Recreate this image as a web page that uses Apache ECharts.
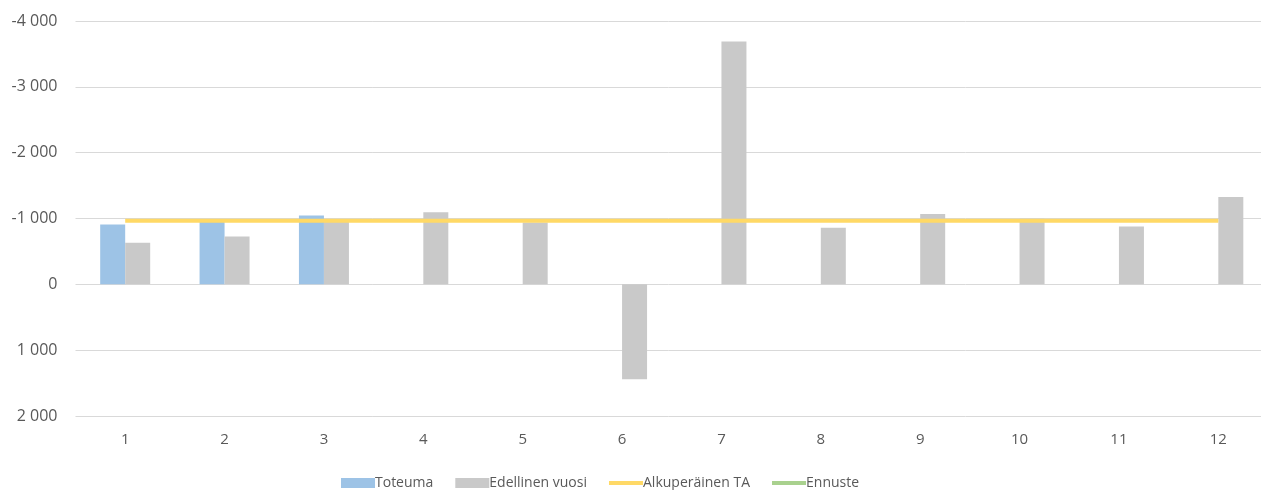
<!DOCTYPE html>
<html><head><meta charset="utf-8">
<script src="https://cdn.jsdelivr.net/npm/echarts@6/dist/echarts.min.js"></script>
<style>html,body{margin:0;padding:0;background:#fff}#c{width:1261px;height:490px}</style>
</head><body><div id="c"></div>
<script>
const categories = ['1','2','3','4','5','6','7','8','9','10','11','12'];
const toteuma = [-909, -950, -1045, null, null, null, null, null, null, null, null, null];
const edellinenVuosi = [-630, -726, -960, -1096, -940, 1440, -3688, -860, -1070, -995, -877, -1325];
const alkuperainenTA = [-965, -965, -965, -965, -965, -965, -965, -965, -965, -965, -965, -965];
const ennuste = [null, null, null, null, null, null, null, null, null, null, null, null];

const fmt = v => {
  const s = Math.abs(v).toString().replace(/\B(?=(\d{3})+(?!\d))/g, ' ');
  return (v < 0 ? '-' : '') + s;
};
const txt = '#595959';
const lineIcon = 'path://M0,0h34v4h-34z';
const chart = echarts.init(document.getElementById('c'));
chart.setOption({
  animation: false,
  textStyle: { fontFamily: 'Open Sans' },
  grid: { left: 75.5, width: 1192.5, top: 21, height: 395, outerBoundsMode: 'none', containLabel: false },
  legend: {
    left: 336, top: 471, itemGap: 22, itemWidth: 34, itemHeight: 10,
    textStyle: { color: txt, fontSize: 14, padding: [0, 0, 0, -5] },
    data: [
      { name: 'Toteuma', icon: 'rect' },
      { name: 'Edellinen vuosi', icon: 'rect' },
      { name: 'Alkuperäinen TA', icon: lineIcon },
      { name: 'Ennuste', icon: lineIcon }
    ]
  },
  xAxis: {
    type: 'category', data: categories,
    axisLine: { show: false }, axisTick: { show: false },
    axisLabel: { color: txt, fontSize: 15, margin: 16 }
  },
  yAxis: {
    type: 'value', inverse: true, min: -4000, max: 2000, interval: 1000,
    axisLine: { show: false }, axisTick: { show: false },
    splitLine: { lineStyle: { color: '#D9D9D9', width: 1 } },
    axisLabel: { color: txt, fontSize: 16, margin: 18, formatter: fmt }
  },
  series: [
    { name: 'Toteuma', type: 'bar', data: toteuma, barWidth: 25, barGap: '0%',
      itemStyle: { color: '#9DC3E6' } },
    { name: 'Edellinen vuosi', type: 'bar', data: edellinenVuosi, barWidth: 25,
      itemStyle: { color: '#C9C9C9' } },
    { name: 'Alkuperäinen TA', type: 'line', data: alkuperainenTA, symbol: 'none', z: 5,
      lineStyle: { color: '#FFD966', width: 4 }, itemStyle: { color: '#FFD966' } },
    { name: 'Ennuste', type: 'line', data: ennuste, symbol: 'none', z: 4,
      lineStyle: { color: '#A9D18E', width: 4 }, itemStyle: { color: '#A9D18E' } }
  ]
});
</script></body></html>
